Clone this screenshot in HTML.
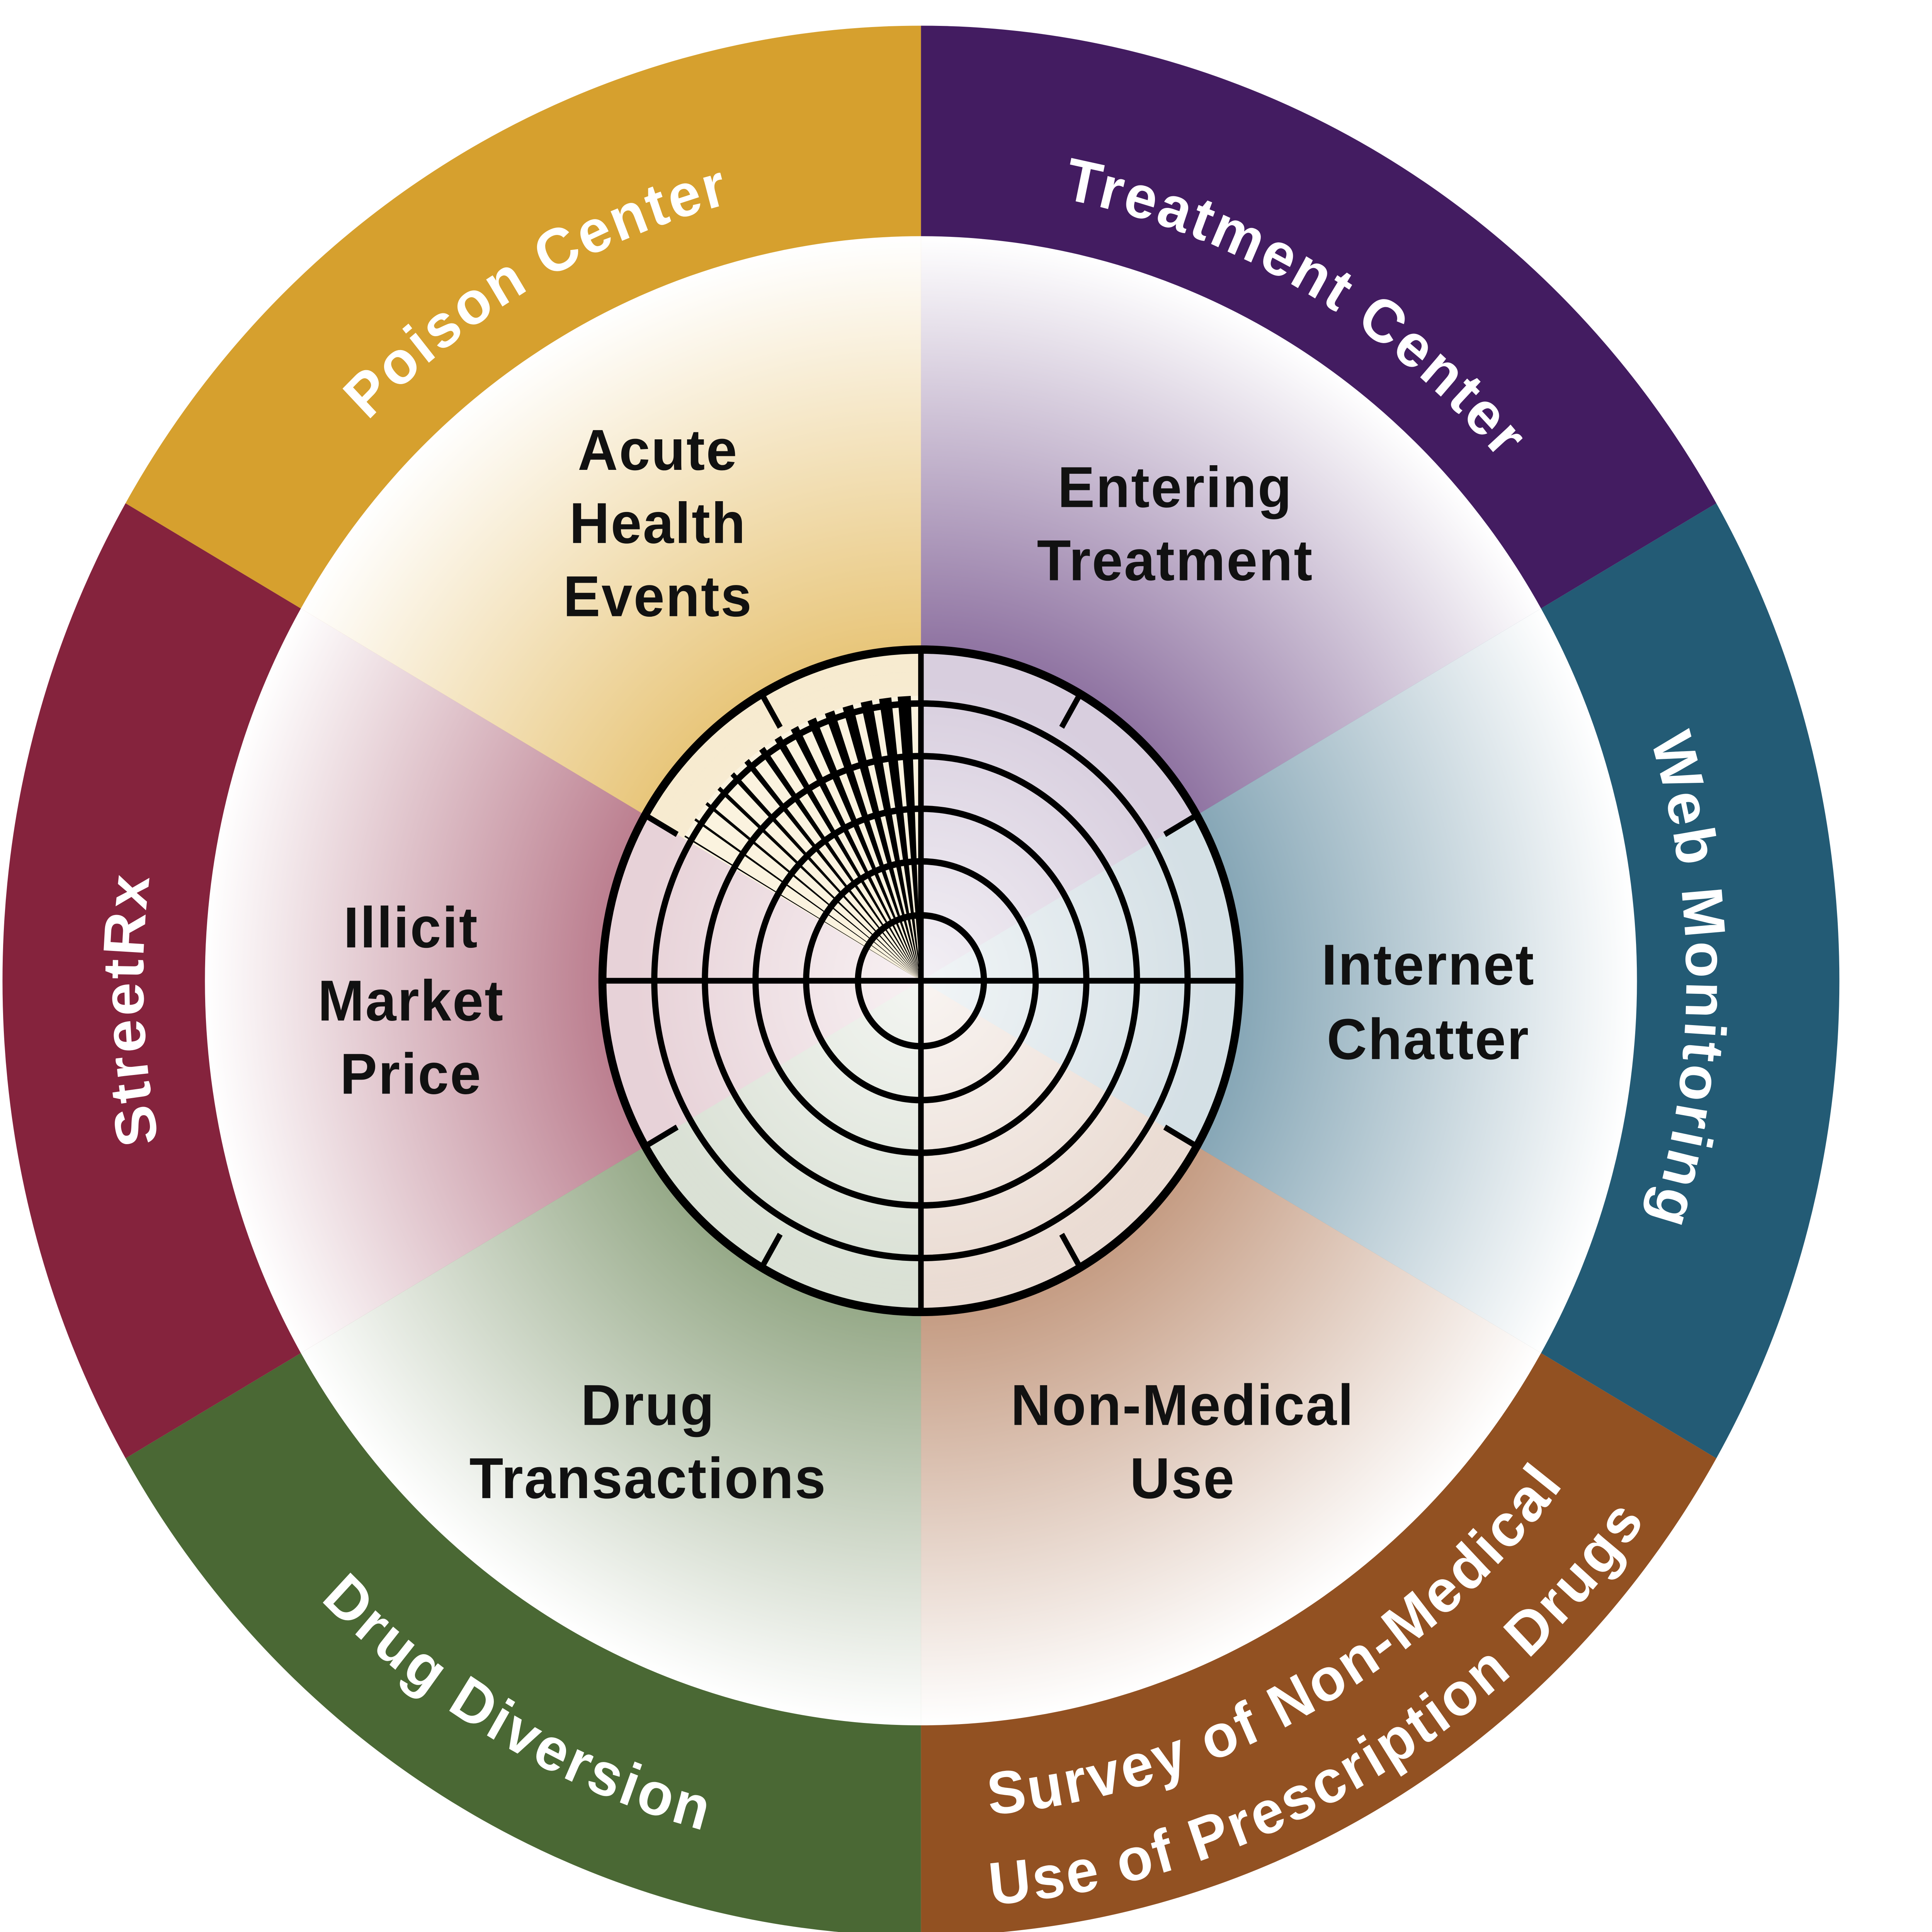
<!DOCTYPE html>
<html><head><meta charset="utf-8"><style>
html,body{margin:0;padding:0;background:#fff;overflow:hidden;width:100vw;height:100vh;}
svg{display:block;position:absolute;left:0;top:0;width:100vw;height:100vh;}
.ring{font-family:"Liberation Sans",sans-serif;font-weight:bold;font-size:47px;fill:#fff;letter-spacing:2px;}
.lab{font-family:"Liberation Sans",sans-serif;font-weight:bold;font-size:45px;fill:#111;text-anchor:middle;letter-spacing:1px;}
</style></head><body>
<svg viewBox="0 0 1565 1505" preserveAspectRatio="none" xmlns="http://www.w3.org/2000/svg">
<defs>
<radialGradient id="gA" gradientUnits="userSpaceOnUse" cx="746" cy="764" r="580"><stop offset="0.4" stop-color="#E6C16F"/><stop offset="1" stop-color="#FFFFFF"/></radialGradient>
<radialGradient id="gE" gradientUnits="userSpaceOnUse" cx="746" cy="764" r="580"><stop offset="0.4" stop-color="#86689A"/><stop offset="1" stop-color="#FFFFFF"/></radialGradient>
<radialGradient id="gI" gradientUnits="userSpaceOnUse" cx="746" cy="764" r="580"><stop offset="0.4" stop-color="#7C9FB0"/><stop offset="1" stop-color="#FFFFFF"/></radialGradient>
<radialGradient id="gN" gradientUnits="userSpaceOnUse" cx="746" cy="764" r="580"><stop offset="0.4" stop-color="#C09479"/><stop offset="1" stop-color="#FFFFFF"/></radialGradient>
<radialGradient id="gD" gradientUnits="userSpaceOnUse" cx="746" cy="764" r="580"><stop offset="0.4" stop-color="#8DA27E"/><stop offset="1" stop-color="#FFFFFF"/></radialGradient>
<radialGradient id="gP" gradientUnits="userSpaceOnUse" cx="746" cy="764" r="580"><stop offset="0.4" stop-color="#B67486"/><stop offset="1" stop-color="#FFFFFF"/></radialGradient>
<radialGradient id="gC" gradientUnits="userSpaceOnUse" cx="746" cy="764" r="258"><stop offset="0" stop-color="#fff" stop-opacity="0.9"/><stop offset="1" stop-color="#fff" stop-opacity="0.65"/></radialGradient>
<path id="tPoison" d="M121,764 A625 625 0 0 1 1058.5,222.7"/>
<path id="tTreat" d="M436,227.1 A620 620 0 0 1 1366,764"/>
<path id="tWeb" d="M1056,227.1 A620 620 0 0 1 1056,1300.9"/>
<path id="tStreet" d="M450.2,1320.2 A630 630 0 0 1 412.2,229.7"/>
<path id="tDiv" d="M61,764 A685 685 0 0 0 1088.5,1357.2"/>
<path id="tSv1" d="M410.2,1322.9 A652 652 0 0 0 1397.9,775.4"/>
<path id="tSv2" d="M379.6,1386.1 A722 722 0 0 0 1468,770.3"/>
<line id="tk" x1="746" y1="508" x2="746" y2="536" stroke="#000" stroke-width="4.5"/>
</defs>
<rect width="1565" height="1505" fill="#fff"/>
<path d="M746,764 L746,20 A744 744 0 0 1 1390.3,392 Z" fill="#431C61"/>
<path d="M746,764 L1390.3,392 A744 744 0 0 1 1390.3,1136 Z" fill="#235B75"/>
<path d="M746,764 L1390.3,1136 A744 744 0 0 1 746,1508 Z" fill="#925122"/>
<path d="M746,764 L746,1508 A744 744 0 0 1 101.7,1136 Z" fill="#4A6834"/>
<path d="M746,764 L101.7,1136 A744 744 0 0 1 101.7,392 Z" fill="#85233D"/>
<path d="M746,764 L101.7,392 A744 744 0 0 1 746,20 Z" fill="#D6A02E"/>
<path d="M746,764 L746,184 A580 580 0 0 1 1248.3,474 Z" fill="url(#gE)"/>
<path d="M746,764 L1248.3,474 A580 580 0 0 1 1248.3,1054 Z" fill="url(#gI)"/>
<path d="M746,764 L1248.3,1054 A580 580 0 0 1 746,1344 Z" fill="url(#gN)"/>
<path d="M746,764 L746,1344 A580 580 0 0 1 243.7,1054 Z" fill="url(#gD)"/>
<path d="M746,764 L243.7,1054 A580 580 0 0 1 243.7,474 Z" fill="url(#gP)"/>
<path d="M746,764 L243.7,474 A580 580 0 0 1 746,184 Z" fill="url(#gA)"/>
<text class="ring"><textPath href="#tPoison" startOffset="50%" text-anchor="middle">Poison Center</textPath></text>
<text class="ring"><textPath href="#tTreat" startOffset="50%" text-anchor="middle">Treatment Center</textPath></text>
<text class="ring"><textPath href="#tWeb" startOffset="50%" text-anchor="middle">Web Monitoring</textPath></text>
<text class="ring"><textPath href="#tStreet" startOffset="50%" text-anchor="middle">StreetRx</textPath></text>
<text class="ring"><textPath href="#tDiv" startOffset="50%" text-anchor="middle">Drug Diversion</textPath></text>
<text class="ring"><textPath href="#tSv1" startOffset="50%" text-anchor="middle">Survey of Non-Medical</textPath></text>
<text class="ring"><textPath href="#tSv2" startOffset="50%" text-anchor="middle">Use of Prescription Drugs</textPath></text>
<text class="lab" x="533" y="366">Acute</text>
<text class="lab" x="533" y="423">Health</text>
<text class="lab" x="533" y="480">Events</text>
<text class="lab" x="952" y="395">Entering</text>
<text class="lab" x="952" y="452">Treatment</text>
<text class="lab" x="1157" y="767">Internet</text>
<text class="lab" x="1157" y="825">Chatter</text>
<text class="lab" x="958" y="1110">Non-Medical</text>
<text class="lab" x="958" y="1167">Use</text>
<text class="lab" x="525" y="1110">Drug</text>
<text class="lab" x="525" y="1167">Transactions</text>
<text class="lab" x="333" y="738">Illicit</text>
<text class="lab" x="333" y="795">Market</text>
<text class="lab" x="333" y="852">Price</text>
<circle cx="746" cy="764" r="258" fill="url(#gC)"/>
<path d="M746,764 L553.7,653 A222 222 0 0 1 746,542 Z" fill="#FBF3DF"/>
<g fill="#000">
<polygon points="746,764 740.7,542 751.3,542" transform="rotate(-3.5 746 764)"/>
<polygon points="746,764 741.03,542 750.97,542" transform="rotate(-7.5 746 764)"/>
<polygon points="746,764 741.37,542 750.63,542" transform="rotate(-11.5 746 764)"/>
<polygon points="746,764 741.7,542 750.3,542" transform="rotate(-15.5 746 764)"/>
<polygon points="746,764 742.03,542 749.97,542" transform="rotate(-19.5 746 764)"/>
<polygon points="746,764 742.37,542 749.63,542" transform="rotate(-23.5 746 764)"/>
<polygon points="746,764 742.7,542 749.3,542" transform="rotate(-27.5 746 764)"/>
<polygon points="746,764 743.03,542 748.97,542" transform="rotate(-31.5 746 764)"/>
<polygon points="746,764 743.37,542 748.63,542" transform="rotate(-35.5 746 764)"/>
<polygon points="746,764 743.7,542 748.3,542" transform="rotate(-39.5 746 764)"/>
<polygon points="746,764 744.03,542 747.97,542" transform="rotate(-43.5 746 764)"/>
<polygon points="746,764 744.37,542 747.63,542" transform="rotate(-47.5 746 764)"/>
<polygon points="746,764 744.7,542 747.3,542" transform="rotate(-51.5 746 764)"/>
<polygon points="746,764 745.03,542 746.97,542" transform="rotate(-55.5 746 764)"/>
<polygon points="746,764 745.37,542 746.63,542" transform="rotate(-59.5 746 764)"/>
</g>
<g fill="none" stroke="#000">
<circle cx="746" cy="764" r="51" stroke-width="5"/>
<circle cx="746" cy="764" r="93" stroke-width="5"/>
<circle cx="746" cy="764" r="134" stroke-width="5"/>
<circle cx="746" cy="764" r="175" stroke-width="5"/>
<circle cx="746" cy="764" r="216" stroke-width="5"/>
<circle cx="746" cy="764" r="258" stroke-width="6.5"/>
<line x1="487" y1="764" x2="1005" y2="764" stroke-width="4.5"/>
<line x1="746" y1="508" x2="746" y2="1022" stroke-width="4.5"/>
</g>
<use href="#tk" transform="rotate(30 746 764)"/>
<use href="#tk" transform="rotate(60 746 764)"/>
<use href="#tk" transform="rotate(120 746 764)"/>
<use href="#tk" transform="rotate(150 746 764)"/>
<use href="#tk" transform="rotate(210 746 764)"/>
<use href="#tk" transform="rotate(240 746 764)"/>
<use href="#tk" transform="rotate(300 746 764)"/>
<use href="#tk" transform="rotate(330 746 764)"/>
</svg>
</body></html>
